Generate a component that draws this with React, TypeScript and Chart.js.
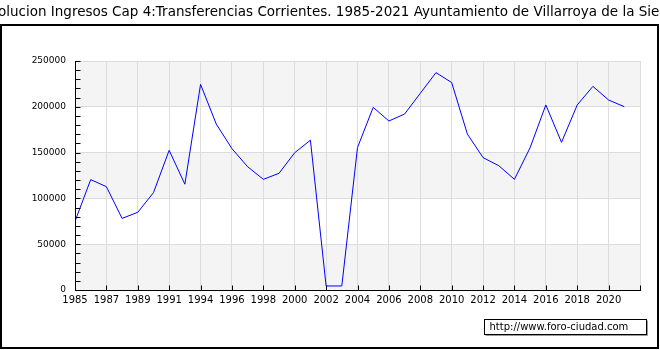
import React, { useEffect, useRef } from 'react';
import { Chart, registerables } from 'chart.js';

Chart.register(...registerables);

const TITLE =
  'Evolucion Ingresos Cap 4:Transferencias Corrientes. 1985-2021 Ayuntamiento de Villarroya de la Sierra';
const WATERMARK = 'http://www.foro-ciudad.com';

// Years present in the series (1993 is missing in the source data)
const years = [
  1985, 1986, 1987, 1988, 1989, 1990, 1991, 1992, 1994, 1995, 1996, 1997, 1998, 1999,
  2000, 2001, 2002, 2003, 2004, 2005, 2006, 2007, 2008, 2009, 2010, 2011, 2012, 2013,
  2014, 2015, 2016, 2017, 2018, 2019, 2020, 2021,
];

const values = [
  75000, 120500, 112800, 78200, 84800, 106300, 152500, 115500, 224500, 181200, 154300,
  134600, 120800, 127400, 149900, 163500, 4400, 4400, 155500, 199400, 184500, 192100,
  214700, 237300, 226500, 170300, 144500, 135700, 120800, 155400, 202000, 161200, 202000,
  222300, 207400, 200100,
];

const yMin = 0;
const yMax = 250000;
const yMajorStep = 50000;
const yMinorStep = 10000;
const xTickStep = 2;
const xMaxIndex = 36;

const FONT = '"DejaVu Sans", Verdana, sans-serif';

const decorPlugin = {
  id: 'decor',
  beforeDraw(chart: any) {
    const { ctx, chartArea, scales } = chart;
    const y = scales.y;
    ctx.save();
    ctx.fillStyle = '#ffffff';
    ctx.fillRect(0, 0, chart.width, chart.height);
    let band = 0;
    for (let v = yMin; v < yMax; v += yMajorStep) {
      const top = y.getPixelForValue(v + yMajorStep);
      const bottom = y.getPixelForValue(v);
      ctx.fillStyle = band % 2 === 0 ? '#f4f4f4' : '#ffffff';
      ctx.fillRect(chartArea.left, top, chartArea.right - chartArea.left, bottom - top);
      band++;
    }
    ctx.restore();
  },
  afterDraw(chart: any) {
    const { ctx, chartArea, scales } = chart;
    const x = scales.x;
    const y = scales.y;
    ctx.save();
    ctx.strokeStyle = '#000000';
    ctx.lineWidth = 1;
    // axes
    const ax = Math.round(chartArea.left) + 0.5;
    const ay = Math.round(chartArea.bottom) + 0.5;
    ctx.beginPath();
    ctx.moveTo(ax, Math.round(chartArea.top));
    ctx.lineTo(ax, ay);
    ctx.lineTo(Math.round(chartArea.right) + 1, ay);
    ctx.stroke();
    // inner ticks on y
    ctx.beginPath();
    for (let v = yMin; v <= yMax; v += yMinorStep) {
      const py = Math.round(y.getPixelForValue(v)) + 0.5;
      ctx.moveTo(ax, py);
      ctx.lineTo(ax + 5, py);
    }
    // inner ticks on x
    for (let i = 0; i <= xMaxIndex; i += xTickStep) {
      const px = Math.round(x.getPixelForValue(i)) + 0.5;
      ctx.moveTo(px, ay);
      ctx.lineTo(px, ay - 5);
    }
    ctx.stroke();

    // frame
    ctx.lineWidth = 2;
    ctx.strokeRect(1, 25, 657, 323);

    // title
    ctx.fillStyle = '#000000';
    ctx.font = '13.5px ' + FONT;
    ctx.textAlign = 'center';
    ctx.textBaseline = 'middle';
    ctx.fillText(TITLE, 330, 12);

    // watermark
    ctx.font = '10px ' + FONT;
    const bx = 484.5;
    const by = 319.5;
    const bw = 162;
    const bh = 15;
    ctx.fillStyle = '#ffffff';
    ctx.fillRect(bx, by, bw, bh);
    ctx.lineWidth = 1;
    ctx.strokeStyle = '#000000';
    ctx.strokeRect(bx, by, bw, bh);
    ctx.strokeStyle = '#999999';
    ctx.beginPath();
    ctx.moveTo(bx + bw + 1, by + 1);
    ctx.lineTo(bx + bw + 1, by + bh + 1);
    ctx.lineTo(bx + 1, by + bh + 1);
    ctx.stroke();
    ctx.fillStyle = '#000000';
    ctx.textAlign = 'left';
    ctx.textBaseline = 'middle';
    ctx.fillText(WATERMARK, bx + 5, by + bh / 2 + 0.5);
    ctx.restore();
  },
};

export default function App() {
  const canvasRef = useRef<HTMLCanvasElement | null>(null);

  useEffect(() => {
    document.body.style.margin = '0';
    const canvas = canvasRef.current;
    if (!canvas) return;
    const points = values.map((v, i) => ({ x: i, y: v }));
    const chart = new Chart(canvas, {
      type: 'line',
      data: {
        datasets: [
          {
            data: points,
            borderColor: '#0000ff',
            borderWidth: 1,
            pointRadius: 0,
            tension: 0,
            fill: false,
          },
        ],
      },
      options: {
        responsive: false,
        animation: false,
        devicePixelRatio: 1,
        layout: { autoPadding: false, padding: { left: 0, top: 61, right: 20, bottom: 0 } },
        plugins: {
          legend: { display: false },
          title: { display: false },
          tooltip: { enabled: false },
        },
        scales: {
          x: {
            type: 'linear',
            min: 0,
            max: xMaxIndex,
            afterFit: (s: any) => {
              s.height = 60;
            },
            border: { display: false },
            grid: { color: '#dcdcdc', drawTicks: false, lineWidth: 1 },
            ticks: {
              stepSize: xTickStep,
              autoSkip: false,
              maxRotation: 0,
              padding: 4,
              color: '#000000',
              font: { family: FONT, size: 10 },
              callback: (v: any) => {
                const y = years[Number(v)];
                return y === undefined ? '' : String(y);
              },
            },
          },
          y: {
            min: yMin,
            max: yMax,
            afterFit: (s: any) => {
              s.width = 75;
            },
            border: { display: false },
            grid: { color: '#dcdcdc', drawTicks: false, lineWidth: 1 },
            ticks: {
              stepSize: yMajorStep,
              padding: 9,
              color: '#000000',
              font: { family: FONT, size: 9 },
              callback: (v: any) => String(v),
            },
          },
        },
      },
      plugins: [decorPlugin],
    });
    return () => chart.destroy();
  }, []);

  return (
    <div style={{ width: 660, height: 350 }}>
      <canvas ref={canvasRef} width={660} height={350} style={{ display: 'block' }} />
    </div>
  );
}
